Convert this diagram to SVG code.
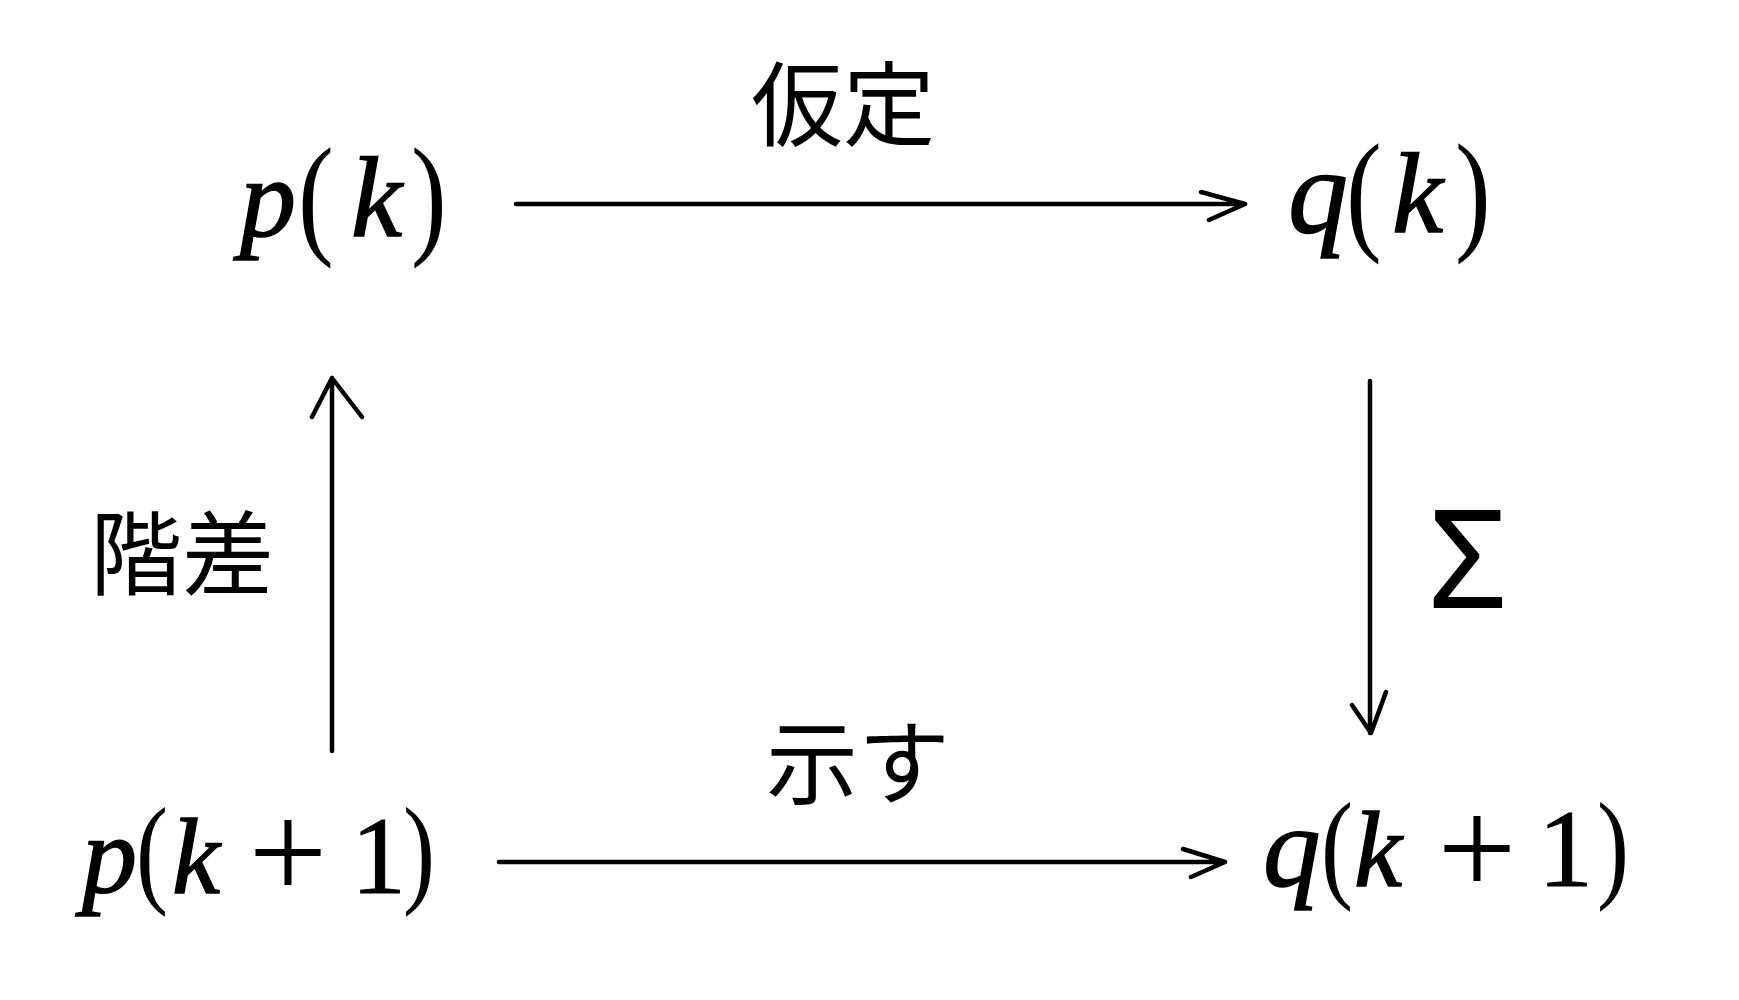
<svg xmlns="http://www.w3.org/2000/svg" width="1739" height="1000" viewBox="0 0 1739 1000">
<style>
.m{font-family:"Liberation Serif","Times New Roman",serif;font-style:italic;fill:#000;stroke:#000;stroke-width:1.5}
.u{font-family:"Liberation Serif","Times New Roman",serif;font-style:normal;fill:#000}
.j{font-family:"Noto Sans CJK JP","Noto Sans CJK SC",sans-serif;font-size:92px;fill:#000;text-anchor:middle}
.c{fill:none;stroke:#000;stroke-width:4.5;stroke-linecap:round;stroke-linejoin:round}
</style>
<rect width="1739" height="1000" fill="#fff"/>
<g id="node-pk">
<text class="m" x="240" y="236" font-size="112">p</text>
<text class="u" transform="translate(298 240) scale(0.8 1)" font-size="134">(</text>
<text class="m" x="351" y="236" font-size="115">k</text>
<text class="u" transform="translate(411 240) scale(0.8 1)" font-size="134">)</text>
</g>
<g id="node-qk">
<text class="m" x="1288" y="232" font-size="120">q</text>
<text class="u" transform="translate(1346 236) scale(0.8 1)" font-size="134">(</text>
<text class="m" x="1392" y="232" font-size="115">k</text>
<text class="u" transform="translate(1455 236) scale(0.8 1)" font-size="134">)</text>
</g>
<g id="node-pk1">
<text class="m" x="82" y="893" font-size="110">p</text>
<text class="u" transform="translate(136 891) scale(0.8 1)" font-size="120">(</text>
<text class="m" x="172" y="893" font-size="108">k</text>
<text class="u" x="288" y="899" font-size="140" text-anchor="middle">+</text>
<text class="u" x="351" y="893" font-size="110" stroke="#000" stroke-width="1">1</text>
<text class="u" transform="translate(403 891) scale(0.8 1)" font-size="120">)</text>
</g>
<g id="node-qk1">
<text class="m" x="1263" y="886" font-size="115">q</text>
<text class="u" transform="translate(1321 886) scale(0.8 1)" font-size="120">(</text>
<text class="m" x="1354" y="886" font-size="108">k</text>
<text class="u" x="1477" y="895" font-size="140" text-anchor="middle">+</text>
<text class="u" x="1538" y="886" font-size="110" stroke="#000" stroke-width="1">1</text>
<text class="u" transform="translate(1597 886) scale(0.8 1)" font-size="120">)</text>
</g>
<g id="connectors">
<g id="edge-top">
<path class="c" d="M516 204 H1245 M1201 192 L1245 204 L1209 220"/>
<text class="j" x="843" y="139">仮定</text>
</g>
<g id="edge-right">
<path class="c" d="M1370 381 V733 M1352 705 L1371 733 L1386 692"/>
<text x="1468" y="608" font-family="Noto Sans, Liberation Sans, sans-serif" font-size="138" text-anchor="middle">Σ</text>
</g>
<g id="edge-bottom">
<path class="c" d="M499 862 H1225 M1183 849 L1225 862 L1191 877"/>
<text class="j" x="858" y="797">示す</text>
</g>
<g id="edge-left">
<path class="c" d="M332 751 V378 M312 417 L332 378 L362 417"/>
<text class="j" x="182" y="588">階差</text>
</g>
</g>
</svg>
